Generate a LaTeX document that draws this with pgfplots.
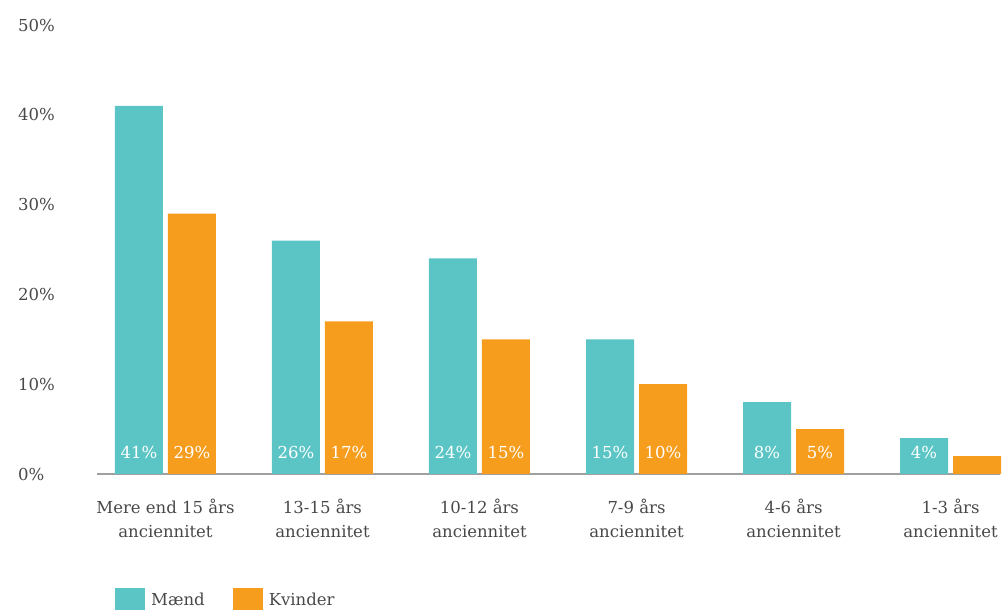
\documentclass[border=0pt]{standalone}
\usepackage{fontspec}
\setmainfont{DejaVu Serif}
\usepackage{pgfplots}
\pgfplotsset{compat=1.18}
\definecolor{tealA}{RGB}{91,197,198}
\definecolor{orangeA}{RGB}{246,157,30}
\definecolor{txt}{RGB}{72,72,72}
\definecolor{base}{RGB}{160,160,160}
\begin{document}
\begin{tikzpicture}[font=\fontsize{16.5}{24}\selectfont]
\useasboundingbox (-97pt,-136pt) rectangle (905pt,474pt);
\begin{axis}[
  scale only axis, width=903pt, height=449pt,
  at={(0pt,0pt)}, anchor=south west,
  xmin=-0.436, xmax=5.315, ymin=0, ymax=50,
  axis x line*=bottom, axis y line*=left,
  x axis line style={draw=base, line width=1.3pt, -},
  y axis line style={draw=none},
  major tick length=0pt,
  ytick={0,10,20,30,40,50},
  yticklabel={\pgfmathprintnumber{\tick}\%},
  yticklabel style={anchor=west, inner sep=0pt, xshift=-79pt, text=txt, font=\fontsize{16.5}{24}\selectfont},
  /pgf/number format/assume math mode=true,
  xtick={0,1,2,3,4,5},
  xticklabels={{Mere end 15 års\\anciennitet},{13-15 års\\anciennitet},{10-12 års\\anciennitet},{7-9 års\\anciennitet},{4-6 års\\anciennitet},{1-3 års\\anciennitet}},
  xticklabel style={align=center, inner sep=0pt, anchor=north, yshift=-25pt, text=txt, font=\fontsize{16.5}{24}\selectfont},
  legend columns=2,
  legend style={at={(axis description cs:0.0199,-0.2806)}, anchor=west, draw=none, fill=none, inner sep=0pt,
    text=txt, font=\fontsize{16.5}{24}\selectfont,
    /tikz/every odd column/.append style={column sep=4pt},
    /tikz/every even column/.append style={column sep=26pt}},
  legend cell align=left,
  clip=false,
]
\addplot[ybar, bar width=48pt, bar shift=-26.5pt, fill=tealA, draw=none,
  legend image code/.code={\fill[tealA] (0pt,-11.5pt) rectangle (30pt,11.5pt);}]
  coordinates {(0,41) (1,26) (2,24) (3,15) (4,8) (5,4)};
\addlegendentry{Mænd}
\addplot[ybar, bar width=48pt, bar shift=26.5pt, fill=orangeA, draw=none,
  legend image code/.code={\fill[orangeA] (0pt,-11.5pt) rectangle (30pt,11.5pt);}]
  coordinates {(0,29) (1,17) (2,15) (3,10) (4,5) (5,2)};
\addlegendentry{Kvinder}
\addplot[draw=none, mark=none, forget plot, point meta=explicit,
  nodes near coords={\pgfmathprintnumber{\pgfplotspointmeta}\%},
  nodes near coords style={anchor=center, xshift=-26.5pt, yshift=22pt, text=white, font=\fontsize{16.5}{24}\selectfont}]
  coordinates {(0,0)[41] (1,0)[26] (2,0)[24] (3,0)[15] (4,0)[8] (5,0)[4]};
\addplot[draw=none, mark=none, forget plot, point meta=explicit,
  nodes near coords={\pgfmathprintnumber{\pgfplotspointmeta}\%},
  nodes near coords style={anchor=center, xshift=26.5pt, yshift=22pt, text=white, font=\fontsize{16.5}{24}\selectfont}]
  coordinates {(0,0)[29] (1,0)[17] (2,0)[15] (3,0)[10] (4,0)[5]};
\end{axis}
\end{tikzpicture}
\end{document}
